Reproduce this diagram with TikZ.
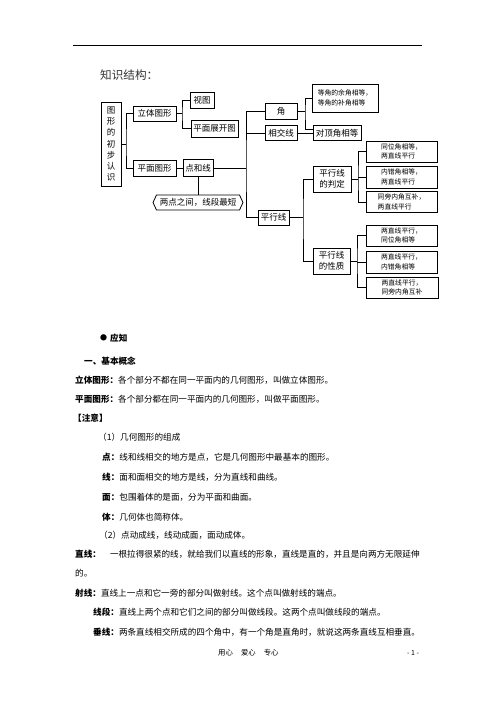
\documentclass[tikz,border=0pt]{standalone}
\usepackage{fontspec}
\setmainfont{Noto Sans CJK SC}
\usetikzlibrary{shapes.symbols,calc}
\begin{document}
\begin{tikzpicture}[x=1pt,y=-1pt]
\tikzset{
 box/.style={draw, line width=1pt, inner sep=0pt, align=center, font=\fontsize{8.5}{11}\selectfont},
 small/.style={box, align=left, font=\fontsize{6.8}{9.5}\selectfont},
 conn/.style={line width=0.8pt},
 body/.style={anchor=west, inner sep=0pt, font=\fontsize{8.6}{10}\selectfont},
}
\fill[white] (0,0) rectangle (496,702);
\useasboundingbox (0,0) rectangle (496,702);
% header rule and title
\draw[line width=0.9pt] (73,45) -- (422,45);
\node[anchor=west, inner sep=0pt, font=\fontsize{11.6}{12}\selectfont, text=black!80] (title) at (100,75) {知识结构：};
% diagram nodes
\node[box, minimum width=20pt, minimum height=84pt, font=\fontsize{8.5}{11.3}\selectfont] (main) at (111,144) {图\\形\\的\\初\\步\\认\\识};
\node[box, minimum width=43pt, minimum height=15pt] (lt) at (154.5,113.5) {立体图形};
\node[box, minimum width=43pt, minimum height=16pt] (pm) at (154.5,168) {平面图形};
\node[box, minimum width=24pt, minimum height=16pt] (st) at (202,100) {视图};
\node[box, minimum width=47pt, minimum height=17pt] (zk) at (214.5,128.5) {平面展开图};
\node[box, minimum width=30pt, minimum height=17pt] (dhx) at (198,168) {点和线};
\node[draw, line width=0.8pt, signal, signal to=west and east, signal pointer angle=130, minimum width=90pt, minimum height=15pt, inner sep=1pt, font=\fontsize{8.5}{11}\selectfont] (oct) at (198,202.5) {两点之间，线段最短};
\node[box, minimum width=32pt, minimum height=16pt] (jiao) at (281,111) {角};
\node[box, minimum width=32pt, minimum height=15pt] (xjx) at (281,133) {相交线};
\node[small, minimum width=66pt, minimum height=28pt] (yj) at (345,98) {等角的余角相等，\\等角的补角相等};
\node[box, minimum width=48pt, minimum height=15pt] (ddj) at (337,133) {对顶角相等};
\node[box, minimum width=31pt, minimum height=15pt] (pxx) at (273.5,217.5) {平行线};
\node[box, minimum width=38pt, minimum height=26pt] (pd) at (332,179) {平行线\\的判定};
\node[box, minimum width=37pt, minimum height=26pt] (xz) at (331.5,261) {平行线\\的性质};
\node[small, minimum width=71pt, minimum height=21pt] (b1) at (401.5,151.5) {同位角相等，\\两直线平行};
\node[small, minimum width=71pt, minimum height=22pt] (b2) at (401.5,177) {内错角相等，\\两直线平行};
\node[small, minimum width=71pt, minimum height=21pt] (b3) at (401.5,202) {同旁内角互补，\\两直线平行};
\node[small, minimum width=71pt, minimum height=21pt] (b4) at (401.5,235.5) {两直线平行，\\同位角相等};
\node[small, minimum width=71pt, minimum height=22pt] (b5) at (401.5,262) {两直线平行，\\内错角相等};
\node[small, minimum width=72pt, minimum height=21pt] (b6) at (402,287.5) {两直线平行，\\同旁内角互补};
% connectors
\coordinate (t1) at (126,144);
\draw[conn] (main.east) -- (t1);
\draw[conn] (lt.west) -| (t1) |- (pm.west);
\coordinate (t2) at (182,113.5);
\draw[conn] (lt.east) -- (t2);
\draw[conn] (st.west) -| (t2) |- (zk.west);
\draw[conn] (pm.east) -- (dhx.west);
\draw[conn] (dhx.south) -- (oct.north);
\coordinate (t3) at (246,168);
\draw[conn] (dhx.east) -- (t3);
\draw[conn] (jiao.west) -| (t3) |- (pxx.west);
\draw[conn] (xjx.west) -- (xjx.west -| t3);
\coordinate (t4) at (305,111);
\draw[conn] (jiao.east) -- (t4);
\draw[conn] (yj.west) -| (t4) |- ([yshift=4pt]ddj.west);
\draw[conn] (xjx.east) -- (ddj.west);
\coordinate (t5) at (303,217.5);
\draw[conn] (pxx.east) -- (t5);
\draw[conn] (pd.west) -| (t5) |- (xz.west);
\coordinate (t6) at (358,179);
\draw[conn] (pd.east) -- (t6);
\draw[conn] (b1.west) -| (t6) |- (b3.west);
\draw[conn] (b2.west) -- (b2.west -| t6);
\coordinate (t7) at (357,261);
\draw[conn] (xz.east) -- (t7);
\draw[conn] (b4.west) -| (t7) |- (b6.west);
\draw[conn] (b5.west) -- (b5.west -| t7);
% body text
\node[body, font=\fontsize{7}{7}\selectfont] (bul) at (100,338) {●};
\node[body, font=\fontsize{8.6}{10}\selectfont\bfseries] (l0) at (110,338) {应知};
\node[body, font=\fontsize{8.6}{10}\selectfont\bfseries] (l1) at (84,361) {一、基本概念};
\node[body] (l2) at (75,380) {{\bfseries 立体图形：}各个部分不都在同一平面内的几何图形，叫做立体图形。};
\node[body] (l3) at (75,399) {{\bfseries 平面图形：}各个部分都在同一平面内的几何图形，叫做平面图形。};
\node[body, font=\fontsize{8.6}{10}\selectfont\bfseries] (l4) at (73,418) {【注意】};
\node[body] (l5) at (98,437) {（1）几何图形的组成};
\node[body] (l6) at (102,457) {{\bfseries 点：}线和线相交的地方是点，它是几何图形中最基本的图形。};
\node[body] (l7) at (102,477) {{\bfseries 线：}面和面相交的地方是线，分为直线和曲线。};
\node[body] (l8) at (102,497) {{\bfseries 面：}包围着体的是面，分为平面和曲面。};
\node[body] (l9) at (102,517) {{\bfseries 体：}几何体也简称体。};
\node[body] (l10) at (99,535) {（2）点动成线，线动成面，面动成体。};
\node[body] (l11) at (75,554) {{\bfseries 直线：}\hspace{9pt}一根拉得很紧的线，就给我们以直线的形象，直线是直的，并且是向两方无限延伸};
\node[body] (l12) at (75,573) {的。};
\node[body] (l13) at (75,593) {{\bfseries 射线：}直线上一点和它一旁的部分叫做射线。这个点叫做射线的端点。};
\node[body] (l14) at (93,612) {{\bfseries 线段：}直线上两个点和它们之间的部分叫做线段。这两个点叫做线段的端点。};
\node[body] (l15) at (93,632) {{\bfseries 垂线：}两条直线相交所成的四个角中，有一个角是直角时，就说这两条直线互相垂直。};
% footer
\node[body, font=\fontsize{7.4}{9}\selectfont] (f1) at (218,653) {用心\hspace{8pt}爱心\hspace{8pt}专心};
\node[body, font=\fontsize{7}{9}\selectfont] (f2) at (407,653) {- 1 -};
\end{tikzpicture}
\end{document}
